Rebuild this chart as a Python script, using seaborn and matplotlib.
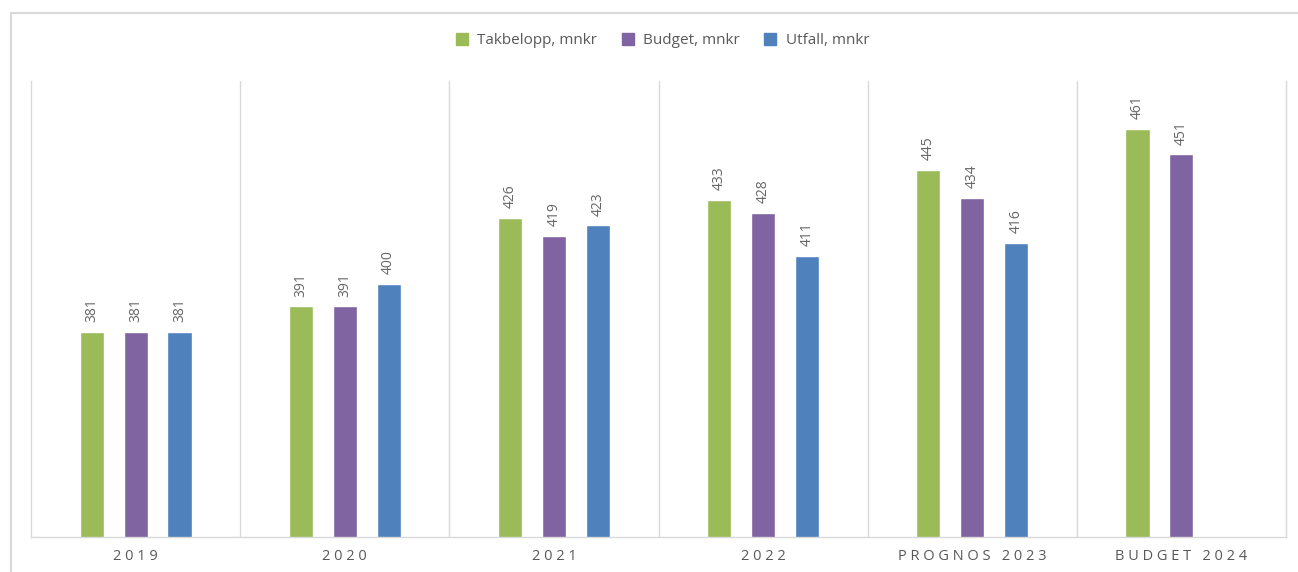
import numpy as np
import pandas as pd
import matplotlib.pyplot as plt
import seaborn as sns
from matplotlib.patches import Rectangle
from matplotlib.lines import Line2D

# data
kategorier = ["2019", "2020", "2021", "2022", "PROGNOS 2023", "BUDGET 2024"]
serier = ["Takbelopp, mnkr", "Budget, mnkr", "Utfall, mnkr"]
takbelopp = [381, 391, 426, 433, 445, 461]
budget = [381, 391, 419, 428, 434, 451]
utfall = [381, 400, 423, 411, 416, np.nan]
farger = ["#9BBB59", "#8064A2", "#4F81BD"]

df = pd.DataFrame({
    "kategori": kategorier * 3,
    "serie": [s for s in serier for _ in kategorier],
    "mnkr": takbelopp + budget + utfall,
})

sns.set_style("white")
plt.rcParams['font.family'] = ['Open Sans', 'DejaVu Sans']

fig = plt.figure(figsize=(12.98, 5.72), dpi=100)
ax = fig.add_axes([31 / 1298, 35 / 572, 1255 / 1298, 456 / 572])

sns.barplot(data=df, x="kategori", y="mnkr", hue="serie", order=kategorier,
            hue_order=serier, palette=farger, width=0.63, gap=0.45,
            saturation=1, legend=False, ax=ax, errorbar=None)

for cont, vals in zip(ax.containers, [takbelopp, budget, utfall]):
    etiketter = [f"{v:.0f}" for v in vals if not np.isnan(v)]
    ax.bar_label(cont, labels=etiketter[:len(cont)], rotation=90, padding=7,
                 fontsize=10, color="#666666")

ax.set_ylim(300, 480)
ax.set_xlim(-0.5, len(kategorier) - 0.5)
ax.set_yticks([])
ax.set_xlabel("")
ax.set_ylabel("")

# vertical separators between categories
for x in np.arange(0.5, len(kategorier) - 0.5, 1):
    ax.axvline(x, color="#d9d9d9", lw=1)

ax.spines["top"].set_visible(False)
for s in ["left", "right", "bottom"]:
    ax.spines[s].set_color("#d9d9d9")
    ax.spines[s].set_linewidth(1)

# letter spaced category labels
ax.set_xticks(range(len(kategorier)))
ax.set_xticklabels([" ".join(k) for k in kategorier], fontsize=10.5, color="#595959")
ax.tick_params(axis="x", length=0, pad=9)

handles = [Line2D([], [], marker="s", linestyle="none", markersize=9,
                  markerfacecolor=c, markeredgecolor=c) for c in farger]
fig.legend(handles, serier, loc="center", bbox_to_anchor=(0.507, 1 - 41 / 572),
           ncol=3, frameon=False, fontsize=11, labelcolor="#595959",
           handletextpad=0.0, columnspacing=1.0)

# outer chart border
fig.patches.append(Rectangle((11 / 1298, -0.05), 1.1, 1 - 13 / 572 + 0.05,
                             transform=fig.transFigure, fill=False,
                             edgecolor="#d9d9d9", lw=1.5))

fig.savefig("out.png", dpi=100)
